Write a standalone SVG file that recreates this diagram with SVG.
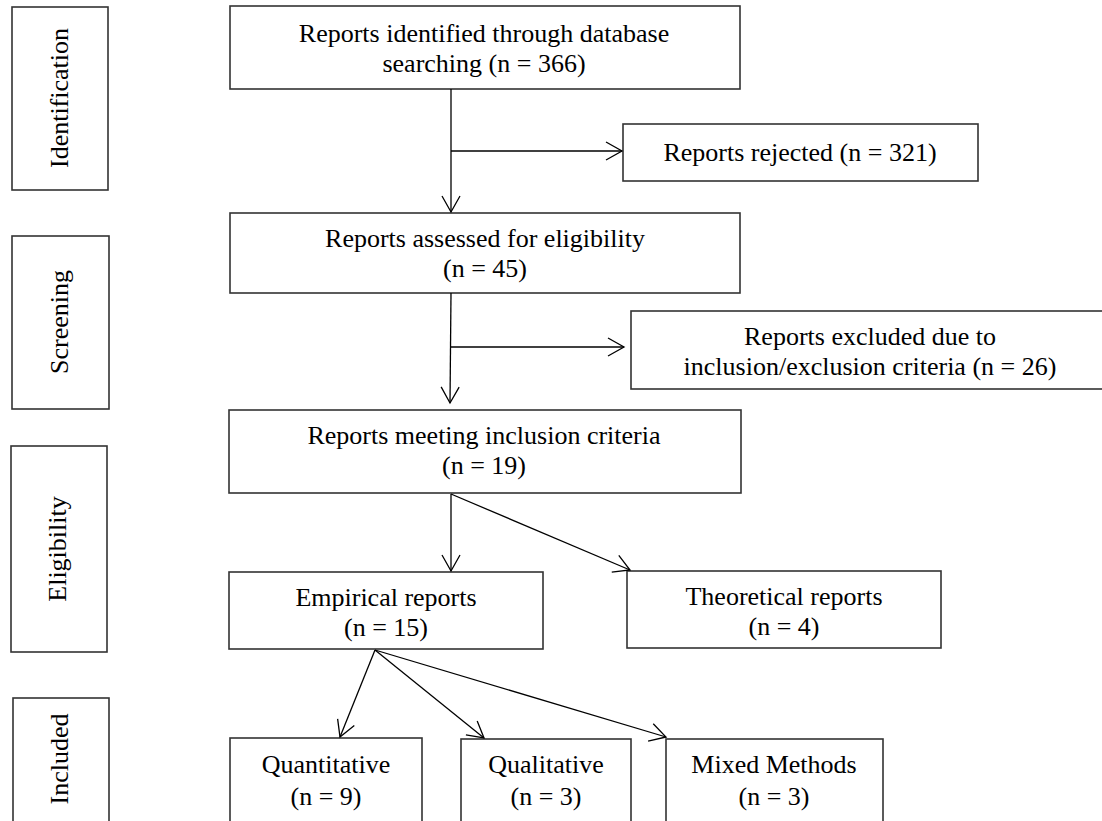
<svg xmlns="http://www.w3.org/2000/svg" width="1102" height="821" viewBox="0 0 1102 821">
<style>
.box{fill:#fff;stroke:#333;stroke-width:1.6}
.t{font-family:"Liberation Serif","Times New Roman",serif;font-size:26px;fill:#000;text-anchor:middle}
.c{fill:none;stroke:#000;stroke-width:1.3}
</style>
<defs>
<marker id="ah" markerUnits="userSpaceOnUse" markerWidth="22" markerHeight="24" viewBox="-19 -12 22 24" refX="0" refY="0" orient="auto" overflow="visible">
<path d="M-16,-9 L0,0 L-16,9" fill="none" stroke="#000" stroke-width="1.3"/>
</marker>
</defs>
<rect width="1102" height="821" fill="#fff"/>
<g id="stage-identification">
<rect class="box" x="12" y="7" width="96" height="183"/>
<text class="t" transform="translate(68,98) rotate(-90)">Identification</text>
</g>
<g id="stage-screening">
<rect class="box" x="12" y="236" width="97" height="173"/>
<text class="t" transform="translate(68,322) rotate(-90)">Screening</text>
</g>
<g id="stage-eligibility">
<rect class="box" x="11" y="446" width="96" height="206"/>
<text class="t" transform="translate(66,549) rotate(-90)">Eligibility</text>
</g>
<g id="stage-included">
<rect class="box" x="13" y="698" width="96" height="130"/>
<text class="t" transform="translate(68,759) rotate(-90)">Included</text>
</g>
<g id="identified">
<rect class="box" x="230" y="6" width="510" height="83"/>
<text class="t" x="484" y="42">Reports identified through database</text>
<text class="t" x="484" y="72">searching (n = 366)</text>
</g>
<g id="rejected">
<rect class="box" x="623" y="124" width="355" height="57"/>
<text class="t" x="800" y="161">Reports rejected (n = 321)</text>
</g>
<g id="assessed">
<rect class="box" x="230" y="213" width="510" height="80"/>
<text class="t" x="485" y="247">Reports assessed for eligibility</text>
<text class="t" x="485" y="277">(n = 45)</text>
</g>
<g id="excluded">
<rect class="box" x="631" y="311" width="480" height="78"/>
<text class="t" x="870" y="345">Reports excluded due to</text>
<text class="t" x="870" y="375">inclusion/exclusion criteria (n = 26)</text>
</g>
<g id="meeting">
<rect class="box" x="229" y="410" width="512" height="83"/>
<text class="t" x="484" y="444">Reports meeting inclusion criteria</text>
<text class="t" x="484" y="474">(n = 19)</text>
</g>
<g id="empirical">
<rect class="box" x="229" y="572" width="314" height="77"/>
<text class="t" x="386" y="606">Empirical reports</text>
<text class="t" x="386" y="636">(n = 15)</text>
</g>
<g id="theoretical">
<rect class="box" x="627" y="571" width="314" height="77"/>
<text class="t" x="784" y="605">Theoretical reports</text>
<text class="t" x="784" y="635">(n = 4)</text>
</g>
<g id="quantitative">
<rect class="box" x="230" y="738" width="192" height="90"/>
<text class="t" x="326" y="773">Quantitative</text>
<text class="t" x="326" y="805">(n = 9)</text>
</g>
<g id="qualitative">
<rect class="box" x="461" y="739" width="170" height="90"/>
<text class="t" x="546" y="773">Qualitative</text>
<text class="t" x="546" y="805">(n = 3)</text>
</g>
<g id="mixed">
<rect class="box" x="666" y="739" width="217" height="90"/>
<text class="t" x="774" y="773">Mixed Methods</text>
<text class="t" x="774" y="805">(n = 3)</text>
</g>
<g id="connectors">
<path class="c" d="M451,89 L451,212" marker-end="url(#ah)"/>
<path class="c" d="M451,151 L622,151" marker-end="url(#ah)"/>
<path class="c" d="M451,293 L450,403" marker-end="url(#ah)"/>
<path class="c" d="M451,347 L624,347" marker-end="url(#ah)"/>
<path class="c" d="M451,494 L451,571" marker-end="url(#ah)"/>
<path class="c" d="M451,494 L630,570" marker-end="url(#ah)"/>
<path class="c" d="M375,650 L340,737" marker-end="url(#ah)"/>
<path class="c" d="M375,650 L484,738" marker-end="url(#ah)"/>
<path class="c" d="M375,650 L666,737" marker-end="url(#ah)"/>
</g>
</svg>
